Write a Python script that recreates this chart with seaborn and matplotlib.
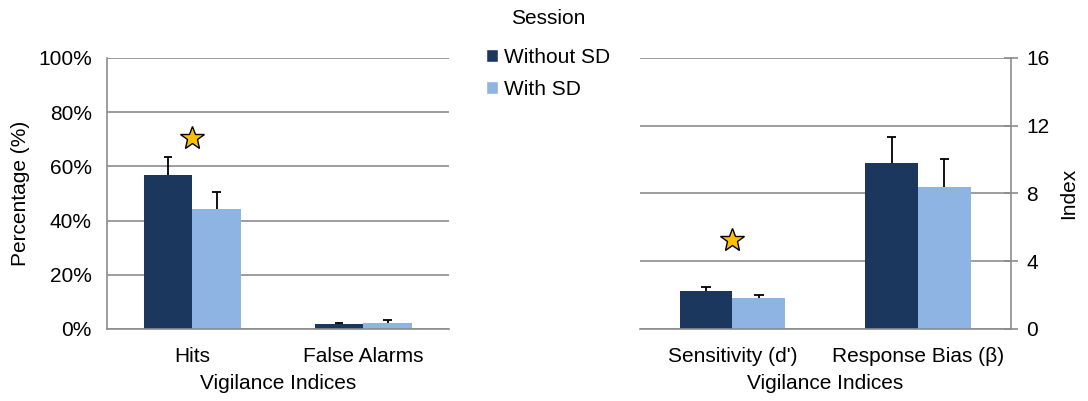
import numpy as np
import pandas as pd
import matplotlib
matplotlib.use("Agg")
import matplotlib.pyplot as plt
import seaborn as sns
from matplotlib.patches import Patch
from matplotlib.ticker import FuncFormatter, FixedLocator

sns.set_style("white")
plt.rcParams["font.family"] = ["Liberation Sans", "DejaVu Sans"]
plt.rcParams["text.color"] = "black"
plt.rcParams["xtick.color"] = "black"
plt.rcParams["ytick.color"] = "black"
plt.rcParams["axes.labelcolor"] = "black"

# dane
sessions = ["Without SD", "With SD"]
colors = ["#1b375e", "#8eb4e3"]

pct_cats = ["Hits", "False Alarms"]
pct_without = [56.8, 1.7]
pct_with = [44.1, 2.2]
pct_err_without = [6.7, 0.4]
pct_err_with = [6.6, 1.0]
pct_star = [70.5, None]

idx_cats = ["Sensitivity (d')", "Response Bias (β)"]
idx_without = [2.27, 9.78]
idx_with = [1.81, 8.37]
idx_err_without = [0.20, 1.54]
idx_err_with = [0.20, 1.64]
idx_star = [5.27, None]

grid_c = "#8c8c8c"
fs = 15


def make_df(cats, v1, v2):
    return pd.DataFrame({
        "Category": cats * 2,
        "Session": [sessions[0]] * len(cats) + [sessions[1]] * len(cats),
        "Value": list(v1) + list(v2),
    })


def draw(ax, cats, v1, v2, e1, e2, stars, ymax, step):
    df = make_df(cats, v1, v2)
    sns.barplot(data=df, x="Category", y="Value", hue="Session",
                palette=colors, width=0.57, errorbar=None, legend=False,
                saturation=1, linewidth=0, ax=ax, zorder=2)
    # slupki bledu tylko w gore
    errs = list(e1) + list(e2)
    for p, e in zip(ax.patches, errs):
        xc = p.get_x() + p.get_width() / 2
        top = p.get_height() + e
        ax.vlines(xc, p.get_height(), top, color="black", linewidth=1.3, zorder=3)
        ax.hlines(top, xc - p.get_width() * 0.09, xc + p.get_width() * 0.09,
                  color="black", linewidth=1.3, zorder=3)
    for i, s in enumerate(stars):
        if s is not None:
            ax.plot(i, s, marker="*", markersize=18, color="#ffc000",
                    markeredgecolor="black", markeredgewidth=1, zorder=4)
    ax.set_xlim(-0.5, len(cats) - 0.5)
    ax.set_ylim(0, ymax)
    ax.set_yticks(np.arange(0, ymax + 0.01, step))
    ax.yaxis.grid(True, color=grid_c, linewidth=1.2)
    ax.set_axisbelow(True)
    ax.xaxis.set_minor_locator(FixedLocator(np.arange(-0.5, len(cats), 1)))
    ax.tick_params(axis="x", which="major", length=0, labelsize=fs, pad=13)
    ax.tick_params(axis="x", which="minor", length=6, color=grid_c, width=1.2, direction="out")
    ax.tick_params(axis="y", length=10, color=grid_c, width=1.2, labelsize=fs,
                   direction="inout", pad=6)
    ax.set_xlabel("Vigilance Indices", fontsize=fs, labelpad=6)
    for sp in ax.spines.values():
        sp.set_color(grid_c)
        sp.set_linewidth(1.2)


fig = plt.figure(figsize=(10.88, 4.01), dpi=100)
ax1 = fig.add_axes([0.0983, 0.1796, 0.3143, 0.6758])
ax2 = fig.add_axes([0.588, 0.1796, 0.341, 0.6758])

draw(ax1, pct_cats, pct_without, pct_with, pct_err_without, pct_err_with, pct_star, 100, 20)
ax1.yaxis.set_major_formatter(FuncFormatter(lambda v, _: f"{v:.0f}%"))
ax1.set_ylabel("Percentage (%)", fontsize=fs, labelpad=6)
ax1.spines["top"].set_visible(False)
ax1.spines["right"].set_visible(False)

draw(ax2, idx_cats, idx_without, idx_with, idx_err_without, idx_err_with, idx_star, 16, 4)
ax2.yaxis.tick_right()
ax2.yaxis.set_label_position("right")
ax2.set_ylabel("Index", fontsize=fs, labelpad=7)
ax2.spines["top"].set_visible(False)
ax2.spines["left"].set_visible(False)

# legenda z tytulem osobno
handles = [Patch(facecolor=c, label=s) for c, s in zip(colors, sessions)]
fig.legend(handles=handles, loc="center", bbox_to_anchor=(0.5037, 0.817),
           frameon=False, fontsize=fs, handlelength=0.6, handleheight=0.6,
           handletextpad=0.3, labelspacing=0.65, borderpad=0)
fig.text(0.5037, 1 - 18 / 401, "Session", ha="center", va="center", fontsize=fs)

fig.savefig("out.png", dpi=100)
